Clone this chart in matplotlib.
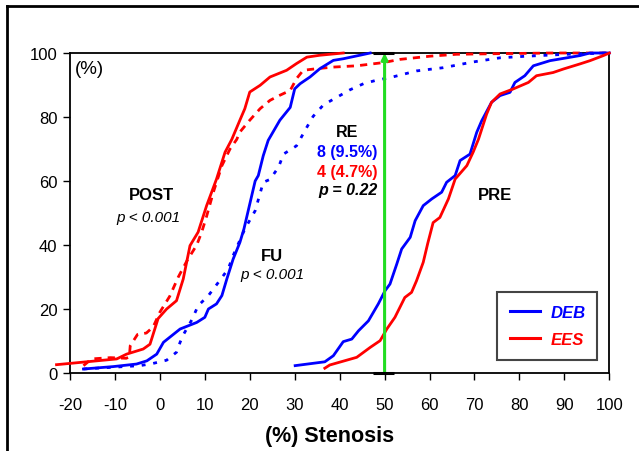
import matplotlib
matplotlib.use("Agg")
import matplotlib.pyplot as plt
from matplotlib.lines import Line2D

plt.rcParams['font.family'] = ['Liberation Sans', 'DejaVu Sans']
plt.rcParams['axes.unicode_minus'] = False

# ---- data ----
post_ees_x = [-23, -20, -9.6, -7.4, -3.7, -2.2, -0.4, 1.5, 3.7, 5.2, 6.7, 8.5, 10.4, 12.6,
              14.5, 16, 17.8, 18.9, 20, 22.3, 24.5, 28.2, 30.4, 32.7, 35.6, 40.8]
post_ees_y = [2.6, 3.0, 4.4, 5.9, 7.5, 9.0, 17.0, 20.0, 22.6, 29.4, 39.8, 44.0, 52.3, 60.6,
              69.0, 73.0, 79.0, 82.6, 87.8, 89.9, 92.5, 94.6, 96.7, 98.7, 99.3, 100]

fu_ees_x = [-17, -15.2, -11, -7.5, -6.8, -6.6, -5, -3, -1.5, 0, 2.2, 4.1, 6, 8.2, 9.3, 10.4,
            11.9, 13.8, 15.6, 17.1, 17.8, 20, 22.3, 24.5, 26.7, 29, 30.4, 31.9, 34.9, 38.6,
            43.8, 49.7, 53.4, 60.1, 66, 75.7, 87.5, 100]
fu_ees_y = [2.3, 4.4, 4.8, 4.6, 5.0, 8.5, 12.0, 12.5, 14.4, 19.0, 24.0, 30.0, 35.0, 40.0,
            44.0, 49.0, 56.5, 64.8, 70.0, 73.0, 75.3, 79.0, 82.6, 85.2, 86.8, 88.3, 92.0,
            94.6, 95.1, 95.6, 96.0, 97.0, 98.0, 99.0, 99.6, 99.8, 100, 100]

post_deb_x = [-17, -10.4, -5.2, -2.9, -0.7, 0.8, 4.5, 8.2, 10.0, 10.8, 12.6, 13.8, 14.9, 16.3,
              17.8, 18.7, 21.2, 21.9, 23.0, 24.1, 26.7, 29.0, 30.0, 31.2, 33.4, 35.6, 38.6,
              40.8, 44.5, 46.8]
post_deb_y = [1.25, 2.0, 2.8, 3.8, 5.9, 9.6, 13.75, 15.8, 17.4, 20.0, 21.6, 24.2, 29.4, 35.6,
              40.8, 45.0, 60.0, 61.7, 67.9, 72.7, 79.0, 83.0, 88.8, 90.4, 92.5, 95.1, 97.7,
              98.2, 99.3, 100]

fu_deb_x = [-17, -4.4, -1.5, 1.5, 3.7, 4.5, 5.2, 7.1, 8.5, 10.8, 13.0, 15.2, 16.3, 18.9, 21.2,
            23.0, 24.5, 26.4, 27.5, 30.4, 32.7, 34.1, 36.4, 39.3, 42.3, 45.3, 48.2, 51.2,
            57.1, 63.0, 69.7, 75.7, 81.6, 90.5, 99.4]
fu_deb_y = [1.25, 2.3, 3.0, 4.0, 6.5, 9.6, 11.9, 16.6, 21.0, 24.2, 28.3, 32.5, 36.7, 45.0,
            50.7, 59.6, 60.5, 64.3, 68.4, 71.0, 76.8, 80.2, 83.8, 86.1, 88.5, 90.4, 91.5,
            92.3, 94.4, 95.4, 97.2, 98.5, 99.0, 99.6, 100]

pre_deb_x = [30.1, 36.7, 38.6, 40.8, 42.7, 44.2, 46.4, 48.6, 50.1, 51.2, 52.7, 53.8, 55.7,
             56.8, 58.6, 60.5, 62.7, 63.8, 65.7, 66.8, 69.0, 70.5, 71.6, 73.8, 75.7, 77.9,
             79.0, 81.2, 83.1, 86.8, 93.5, 95.7, 100]
pre_deb_y = [2.3, 3.5, 5.4, 9.8, 10.6, 13.2, 16.3, 21.6, 25.7, 27.8, 34.0, 38.75, 42.4,
             47.6, 52.3, 54.4, 56.5, 59.6, 61.7, 66.4, 68.4, 75.2, 78.8, 84.6, 86.7, 87.7,
             90.8, 92.9, 96.0, 97.6, 99.2, 100, 100]

pre_ees_x = [36.7, 37.8, 43.8, 46.8, 49.0, 50.5, 52.3, 54.5, 56.0, 57.1, 58.6, 59.6, 60.8,
             62.3, 64.2, 65.7, 68.3, 69.7, 70.9, 72.7, 73.8, 75.7, 78.6, 82.0, 83.8, 87.5,
             89.8, 93.5, 95.7, 98.7, 100]
pre_ees_y = [1.5, 2.5, 4.9, 8.0, 10.1, 13.75, 17.4, 23.6, 25.2, 28.8, 34.6, 40.5, 47.0,
             48.6, 54.4, 60.6, 64.8, 69.0, 73.1, 80.9, 84.6, 87.2, 88.75, 90.8, 92.9, 93.9,
             95.0, 96.6, 97.6, 99.2, 100]

xticks = list(range(-20, 101, 10))
yticks = list(range(0, 101, 20))
cutoff = 50

BLUE = '#0000ff'
RED = '#ff0000'
GREEN = '#22dd22'

fig = plt.figure(figsize=(6.39, 4.52), dpi=100)
ax = fig.add_axes([70 / 639, 1 - 374 / 452, 539.3 / 639, 320 / 452])

lw = 2.0
ax.plot(post_ees_x, post_ees_y, color=RED, lw=lw, clip_on=False, zorder=3)
ax.plot(fu_ees_x, fu_ees_y, color=RED, lw=lw, ls=(0, (2.6, 2.2)), clip_on=False, zorder=3)
ax.plot(post_deb_x, post_deb_y, color=BLUE, lw=lw, clip_on=False, zorder=3)
ax.plot(fu_deb_x, fu_deb_y, color=BLUE, lw=lw, ls=(0, (1.4, 2.8)), clip_on=False, zorder=3)
ax.plot(pre_deb_x, pre_deb_y, color=BLUE, lw=lw, clip_on=False, zorder=3)
ax.plot(pre_ees_x, pre_ees_y, color=RED, lw=lw, clip_on=False, zorder=3)

# cutoff line with arrow
ax.annotate('', xy=(cutoff, 100), xytext=(cutoff, 0),
            arrowprops=dict(arrowstyle='-|>', color=GREEN, lw=2.2, mutation_scale=9,
                            shrinkA=0, shrinkB=0), zorder=4, annotation_clip=False)
ax.hlines([0, 100], cutoff - 2.5, cutoff + 2.0, colors='black', lw=2.2, clip_on=False, zorder=5)

ax.set_xlim(-20, 100)
ax.set_ylim(0, 100)
ax.set_xticks(xticks)
ax.set_yticks(yticks)
ax.tick_params(axis='both', direction='out', length=5, width=1, labelsize=12, colors='black')
ax.tick_params(axis='x', pad=12)
ax.tick_params(axis='y', pad=4)
for s in ax.spines.values():
    s.set_linewidth(1.3)
    s.set_color('black')

ax.set_xlabel('(%) Stenosis', fontsize=15.5, fontweight='bold')
ax.xaxis.set_label_coords((330 - 70) / 539.3, -(426 - 374) / 320)

# annotations
def px(x, y):
    return ((x - 70) / 539.3, (374 - y) / 320)

ax.text(*px(75, 70), '(%)', transform=ax.transAxes, fontsize=13.5, ha='left', va='center')
ax.text(*px(151, 195), 'POST', transform=ax.transAxes, fontsize=12, fontweight='bold',
        ha='center', va='center')
ax.text(*px(148, 218), 'p < 0.001', transform=ax.transAxes, fontsize=11, style='italic',
        ha='center', va='center')
ax.text(*px(272, 257), 'FU', transform=ax.transAxes, fontsize=12, fontweight='bold',
        ha='center', va='center')
ax.text(*px(272.5, 275), 'p < 0.001', transform=ax.transAxes, fontsize=11, style='italic',
        ha='center', va='center')
ax.text(*px(347.5, 133), 'RE', transform=ax.transAxes, fontsize=11.5, fontweight='bold',
        ha='center', va='center')
ax.text(*px(347.5, 152), '8 (9.5%)', transform=ax.transAxes, fontsize=11.5, fontweight='bold',
        color=BLUE, ha='center', va='center')
ax.text(*px(347.5, 172), '4 (4.7%)', transform=ax.transAxes, fontsize=11.5, fontweight='bold',
        color=RED, ha='center', va='center')
ax.text(*px(347.5, 190), 'p = 0.22', transform=ax.transAxes, fontsize=11.5, fontweight='bold',
        style='italic', ha='center', va='center')
ax.text(*px(495, 195), 'PRE', transform=ax.transAxes, fontsize=12, fontweight='bold',
        ha='center', va='center')

handles = [Line2D([], [], color=BLUE, lw=2.2), Line2D([], [], color=RED, lw=2.2)]
x0, y0 = px(497, 361)
x1, y1 = px(597, 293)
leg = ax.legend(handles, ['DEB', 'EES'], loc='lower left',
                bbox_to_anchor=(x0, y0, x1 - x0, y1 - y0), mode='expand', borderaxespad=0,
                prop=dict(size=12, weight='bold', style='italic'), handlelength=1.8,
                handletextpad=0.6, labelspacing=0.7, borderpad=0.8, fancybox=False,
                frameon=True, edgecolor='#444444', framealpha=1)
leg.get_frame().set_linewidth(1.5)
for t, c in zip(leg.get_texts(), [BLUE, RED]):
    t.set_color(c)

# outer frame (cut at right/bottom)
fig.add_artist(Line2D([7 / 639, 7 / 639], [0, 1 - 7 / 452], color='black', lw=2,
                      transform=fig.transFigure))
fig.add_artist(Line2D([7 / 639, 1], [1 - 7 / 452, 1 - 7 / 452], color='black', lw=2,
                      transform=fig.transFigure))

fig.savefig('out.png', dpi=100)
